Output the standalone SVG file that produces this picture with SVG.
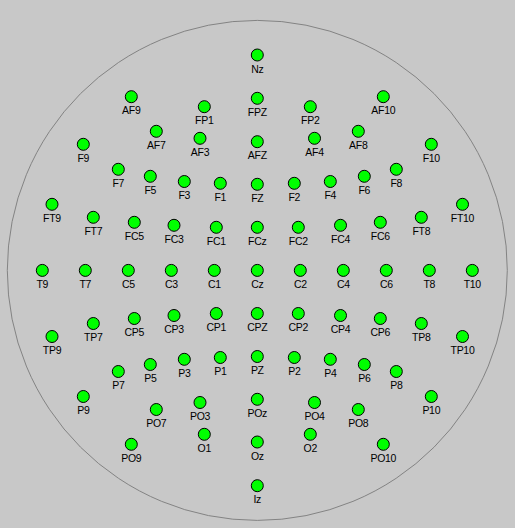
<svg xmlns="http://www.w3.org/2000/svg" width="515" height="528" viewBox="0 0 515 528">
<style>
.bg{fill:#c8c8c8}
.head{fill:none;stroke:#838383;stroke-width:1}
.e circle{fill:#00ff00;stroke:#000;stroke-width:1}
.e text{font-family:"Liberation Sans",Arial,sans-serif;font-size:10.5px;letter-spacing:-0.3px;fill:#000;text-anchor:middle}
</style>
<rect class="bg" x="0" y="0" width="515" height="528"/>
<circle class="head" cx="257.3" cy="270.4" r="250"/>
<g id="connectors"></g>
<g id="electrodes">
<g id="Nz" class="e"><circle cx="257.3" cy="55" r="6"/><text x="257.3" y="72.5">Nz</text></g>
<g id="FPZ" class="e"><circle cx="257.3" cy="98.3" r="6"/><text x="257.3" y="115.8">FPZ</text></g>
<g id="FP1" class="e"><circle cx="204.3" cy="106.7" r="6"/><text x="204.3" y="124.2">FP1</text></g>
<g id="FP2" class="e"><circle cx="310.3" cy="106.7" r="6"/><text x="310.3" y="124.2">FP2</text></g>
<g id="AF9" class="e"><circle cx="131.3" cy="96.7" r="6"/><text x="131.3" y="114.2">AF9</text></g>
<g id="AF10" class="e"><circle cx="383.3" cy="96.7" r="6"/><text x="383.3" y="114.2">AF10</text></g>
<g id="AF7" class="e"><circle cx="156.3" cy="131.3" r="6"/><text x="156.3" y="148.8">AF7</text></g>
<g id="AF8" class="e"><circle cx="358.3" cy="131.3" r="6"/><text x="358.3" y="148.8">AF8</text></g>
<g id="AF3" class="e"><circle cx="200" cy="138.3" r="6"/><text x="200" y="155.8">AF3</text></g>
<g id="AF4" class="e"><circle cx="314.5" cy="138.3" r="6"/><text x="314.5" y="155.8">AF4</text></g>
<g id="AFZ" class="e"><circle cx="257.3" cy="141.7" r="6"/><text x="257.3" y="159.2">AFZ</text></g>
<g id="F9" class="e"><circle cx="83.3" cy="144.3" r="6"/><text x="83.3" y="161.8">F9</text></g>
<g id="F10" class="e"><circle cx="431.3" cy="144.3" r="6"/><text x="431.3" y="161.8">F10</text></g>
<g id="F7" class="e"><circle cx="118.3" cy="169.3" r="6"/><text x="118.3" y="186.8">F7</text></g>
<g id="F8" class="e"><circle cx="396.3" cy="169.3" r="6"/><text x="396.3" y="186.8">F8</text></g>
<g id="F5" class="e"><circle cx="150.3" cy="176.3" r="6"/><text x="150.3" y="193.8">F5</text></g>
<g id="F6" class="e"><circle cx="364.3" cy="176.3" r="6"/><text x="364.3" y="193.8">F6</text></g>
<g id="F3" class="e"><circle cx="184.3" cy="181.5" r="6"/><text x="184.3" y="199">F3</text></g>
<g id="F4" class="e"><circle cx="330.3" cy="181.5" r="6"/><text x="330.3" y="199">F4</text></g>
<g id="F1" class="e"><circle cx="220.3" cy="183.3" r="6"/><text x="220.3" y="200.8">F1</text></g>
<g id="F2" class="e"><circle cx="294.3" cy="183.3" r="6"/><text x="294.3" y="200.8">F2</text></g>
<g id="FZ" class="e"><circle cx="257.3" cy="184.3" r="6"/><text x="257.3" y="201.8">FZ</text></g>
<g id="FT9" class="e"><circle cx="52" cy="204.3" r="6"/><text x="52" y="221.8">FT9</text></g>
<g id="FT10" class="e"><circle cx="462.5" cy="204.3" r="6"/><text x="462.5" y="221.8">FT10</text></g>
<g id="FT7" class="e"><circle cx="93.3" cy="217.3" r="6"/><text x="93.3" y="234.8">FT7</text></g>
<g id="FT8" class="e"><circle cx="421.3" cy="217.3" r="6"/><text x="421.3" y="234.8">FT8</text></g>
<g id="FC5" class="e"><circle cx="134.3" cy="222.3" r="6"/><text x="134.3" y="239.8">FC5</text></g>
<g id="FC6" class="e"><circle cx="380.3" cy="222.3" r="6"/><text x="380.3" y="239.8">FC6</text></g>
<g id="FC3" class="e"><circle cx="174" cy="225.3" r="6"/><text x="174" y="242.8">FC3</text></g>
<g id="FC4" class="e"><circle cx="340.5" cy="225.3" r="6"/><text x="340.5" y="242.8">FC4</text></g>
<g id="FC1" class="e"><circle cx="216.3" cy="227.3" r="6"/><text x="216.3" y="244.8">FC1</text></g>
<g id="FC2" class="e"><circle cx="298.3" cy="227.3" r="6"/><text x="298.3" y="244.8">FC2</text></g>
<g id="FCz" class="e"><circle cx="257.3" cy="227.3" r="6"/><text x="257.3" y="244.8">FCz</text></g>
<g id="T9" class="e"><circle cx="42.3" cy="270.4" r="6"/><text x="42.3" y="287.9">T9</text></g>
<g id="T7" class="e"><circle cx="85.3" cy="270.4" r="6"/><text x="85.3" y="287.9">T7</text></g>
<g id="C5" class="e"><circle cx="128.3" cy="270.4" r="6"/><text x="128.3" y="287.9">C5</text></g>
<g id="C3" class="e"><circle cx="171.3" cy="270.4" r="6"/><text x="171.3" y="287.9">C3</text></g>
<g id="C1" class="e"><circle cx="214.3" cy="270.4" r="6"/><text x="214.3" y="287.9">C1</text></g>
<g id="Cz" class="e"><circle cx="257.3" cy="270.4" r="6"/><text x="257.3" y="287.9">Cz</text></g>
<g id="C2" class="e"><circle cx="300.3" cy="270.4" r="6"/><text x="300.3" y="287.9">C2</text></g>
<g id="C4" class="e"><circle cx="343.3" cy="270.4" r="6"/><text x="343.3" y="287.9">C4</text></g>
<g id="C6" class="e"><circle cx="386.3" cy="270.4" r="6"/><text x="386.3" y="287.9">C6</text></g>
<g id="T8" class="e"><circle cx="429.3" cy="270.4" r="6"/><text x="429.3" y="287.9">T8</text></g>
<g id="T10" class="e"><circle cx="472.3" cy="270.4" r="6"/><text x="472.3" y="287.9">T10</text></g>
<g id="TP9" class="e"><circle cx="52" cy="336.5" r="6"/><text x="52" y="354">TP9</text></g>
<g id="TP10" class="e"><circle cx="462.5" cy="336.5" r="6"/><text x="462.5" y="354">TP10</text></g>
<g id="TP7" class="e"><circle cx="93.3" cy="323.5" r="6"/><text x="93.3" y="341">TP7</text></g>
<g id="TP8" class="e"><circle cx="421.3" cy="323.5" r="6"/><text x="421.3" y="341">TP8</text></g>
<g id="CP5" class="e"><circle cx="134.3" cy="318.5" r="6"/><text x="134.3" y="336">CP5</text></g>
<g id="CP6" class="e"><circle cx="380.3" cy="318.5" r="6"/><text x="380.3" y="336">CP6</text></g>
<g id="CP3" class="e"><circle cx="174" cy="315.5" r="6"/><text x="174" y="333">CP3</text></g>
<g id="CP4" class="e"><circle cx="340.5" cy="315.5" r="6"/><text x="340.5" y="333">CP4</text></g>
<g id="CP1" class="e"><circle cx="216.3" cy="313.5" r="6"/><text x="216.3" y="331">CP1</text></g>
<g id="CP2" class="e"><circle cx="298.3" cy="313.5" r="6"/><text x="298.3" y="331">CP2</text></g>
<g id="CPZ" class="e"><circle cx="257.3" cy="313.5" r="6"/><text x="257.3" y="331">CPZ</text></g>
<g id="P7" class="e"><circle cx="118.3" cy="371.5" r="6"/><text x="118.3" y="389">P7</text></g>
<g id="P8" class="e"><circle cx="396.3" cy="371.5" r="6"/><text x="396.3" y="389">P8</text></g>
<g id="P5" class="e"><circle cx="150.3" cy="364.5" r="6"/><text x="150.3" y="382">P5</text></g>
<g id="P6" class="e"><circle cx="364.3" cy="364.5" r="6"/><text x="364.3" y="382">P6</text></g>
<g id="P3" class="e"><circle cx="184.3" cy="359.3" r="6"/><text x="184.3" y="376.8">P3</text></g>
<g id="P4" class="e"><circle cx="330.3" cy="359.3" r="6"/><text x="330.3" y="376.8">P4</text></g>
<g id="P1" class="e"><circle cx="220.3" cy="357.5" r="6"/><text x="220.3" y="375">P1</text></g>
<g id="P2" class="e"><circle cx="294.3" cy="357.5" r="6"/><text x="294.3" y="375">P2</text></g>
<g id="PZ" class="e"><circle cx="257.3" cy="356.5" r="6"/><text x="257.3" y="374">PZ</text></g>
<g id="P9" class="e"><circle cx="83.3" cy="396.5" r="6"/><text x="83.3" y="414">P9</text></g>
<g id="P10" class="e"><circle cx="431.3" cy="396.5" r="6"/><text x="431.3" y="414">P10</text></g>
<g id="PO7" class="e"><circle cx="156.3" cy="409.5" r="6"/><text x="156.3" y="427">PO7</text></g>
<g id="PO8" class="e"><circle cx="358.3" cy="409.5" r="6"/><text x="358.3" y="427">PO8</text></g>
<g id="PO3" class="e"><circle cx="200" cy="402.5" r="6"/><text x="200" y="420">PO3</text></g>
<g id="PO4" class="e"><circle cx="314.5" cy="402.5" r="6"/><text x="314.5" y="420">PO4</text></g>
<g id="POz" class="e"><circle cx="257.3" cy="399.3" r="6"/><text x="257.3" y="416.8">POz</text></g>
<g id="O1" class="e"><circle cx="204.3" cy="434.3" r="6"/><text x="204.3" y="451.8">O1</text></g>
<g id="O2" class="e"><circle cx="310.3" cy="434.3" r="6"/><text x="310.3" y="451.8">O2</text></g>
<g id="Oz" class="e"><circle cx="257.3" cy="442" r="6"/><text x="257.3" y="459.5">Oz</text></g>
<g id="PO9" class="e"><circle cx="131.3" cy="444.3" r="6"/><text x="131.3" y="461.8">PO9</text></g>
<g id="PO10" class="e"><circle cx="383.3" cy="444.3" r="6"/><text x="383.3" y="461.8">PO10</text></g>
<g id="Iz" class="e"><circle cx="257.3" cy="485.7" r="6"/><text x="257.3" y="503.2">Iz</text></g>
</g>
</svg>
